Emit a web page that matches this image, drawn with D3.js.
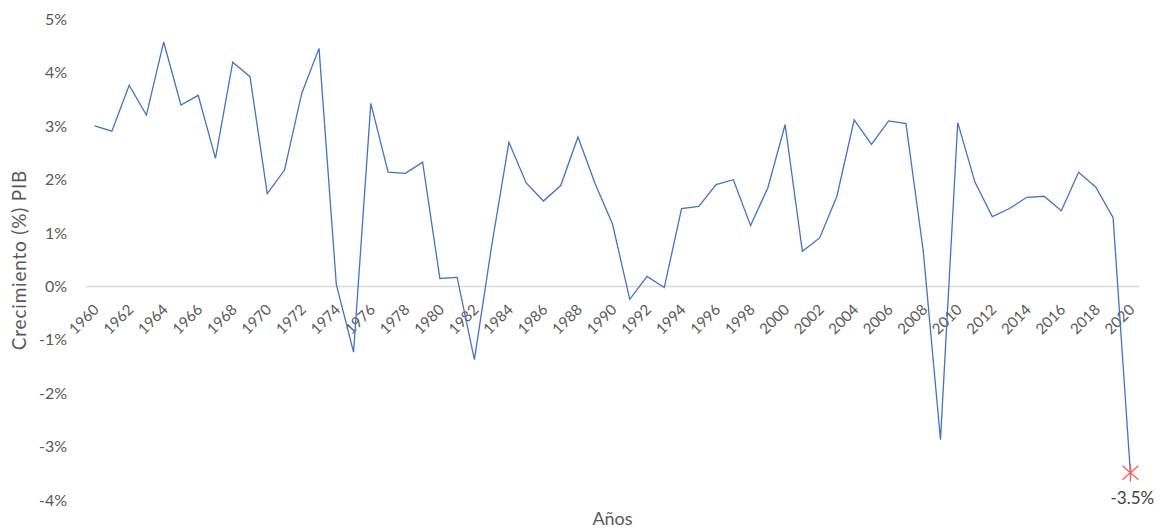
<!DOCTYPE html>
<html>
<head>
<meta charset="utf-8">
<script src="https://cdn.jsdelivr.net/npm/d3@7"></script>
<style>
  html, body { margin: 0; padding: 0; background: #ffffff; }
  svg { display: block; font-family: Lato, "Open Sans", sans-serif; }
</style>
</head>
<body>
<svg id="chart" width="1162" height="529"></svg>
<script>
const years = d3.range(1960, 2021);
const growth = [
  3.00, 2.90, 3.76, 3.20, 4.57, 3.39, 3.57, 2.39, 4.19, 3.92,
  1.73, 2.17, 3.61, 4.45, 0.03, -1.24, 3.42, 2.13, 2.11, 2.32,
  0.14, 0.16, -1.38, 0.75, 2.69, 1.93, 1.59, 1.88, 2.79, 1.91,
  1.16, -0.25, 0.18, -0.03, 1.45, 1.49, 1.90, 1.99, 1.13, 1.84,
  3.02, 0.65, 0.90, 1.68, 3.11, 2.65, 3.09, 3.04, 0.66, -2.88,
  3.06, 1.94, 1.30, 1.45, 1.66, 1.68, 1.41, 2.13, 1.85, 1.28,
  -3.5
];
const yTicks = [-4, -3, -2, -1, 0, 1, 2, 3, 4, 5];
const xTickYears = years.filter(y => y % 2 === 0);
const highlightYear = 2020;
const highlightLabel = "-3.5%";
const yTitle = "Crecimiento (%) PIB";
const xTitle = "Años";

const svg = d3.select("#chart");

const x = d3.scalePoint().domain(years).range([86, 1139]).padding(0.5);
const y = d3.scaleLinear().domain([-4, 5]).range([499.5, 19]);

// Y axis (labels only)
const yAxis = svg.append("g")
  .attr("transform", "translate(67,0)")
  .call(d3.axisLeft(y).tickValues(yTicks).tickSize(0).tickPadding(0)
        .tickFormat(d => d + "%"));
yAxis.select(".domain").remove();
yAxis.selectAll("text")
  .attr("fill", "#595959")
  .style("font-size", "16px")
  .style("font-family", "Lato, 'Open Sans', sans-serif")
  .attr("dy", "0.35em")
  .attr("x", 0);

// X axis at zero line
const xAxis = svg.append("g")
  .attr("transform", `translate(0,${y(0)})`)
  .call(d3.axisBottom(x).tickValues(xTickYears).tickSize(0).tickSizeOuter(0));
xAxis.select(".domain")
  .attr("stroke", "#d9d9d9")
  .attr("stroke-width", 1.5);
xAxis.selectAll("text")
  .attr("fill", "#595959")
  .style("font-size", "15px")
  .style("font-family", "Lato, 'Open Sans', sans-serif")
  .attr("y", 0)
  .attr("x", 0)
  .attr("dy", "0.35em")
  .attr("text-anchor", "end")
  .attr("transform", "translate(1,21) rotate(-45)");

// Line
const line = d3.line()
  .x((d, i) => x(years[i]))
  .y(d => y(d));
svg.append("path")
  .datum(growth)
  .attr("fill", "none")
  .attr("stroke", "#4472C4")
  .attr("stroke-width", 1.3)
  .attr("stroke-linejoin", "miter")
  .attr("d", line);

// Highlight marker
const hi = years.indexOf(highlightYear);
const mx = x(highlightYear), my = y(growth[hi]);
const mk = svg.append("g").attr("transform", `translate(${mx},${my})`)
  .attr("stroke", "#FF5B5B").attr("stroke-width", 1.3).attr("fill", "none");
mk.append("path").attr("d", "M-8,-7L8,7M-8,7L8,-7M0,-9L0,9");

svg.append("text")
  .attr("x", mx + 2)
  .attr("y", my + 25)
  .attr("dy", "0.35em")
  .attr("text-anchor", "middle")
  .attr("fill", "#404040")
  .style("font-size", "17px")
  .text(highlightLabel);

// Titles
svg.append("text")
  .attr("transform", `translate(19.5,260) rotate(-90)`)
  .attr("text-anchor", "middle")
  .attr("dy", "0.35em")
  .attr("fill", "#595959")
  .style("font-size", "19px")
  .style("letter-spacing", "0.8px")
  .text(yTitle);

svg.append("text")
  .attr("x", (x.range()[0] + x.range()[1]) / 2)
  .attr("y", 519)
  .attr("dy", "0.35em")
  .attr("text-anchor", "middle")
  .attr("fill", "#595959")
  .style("font-size", "18px")
  .text(xTitle);
</script>
</body>
</html>
